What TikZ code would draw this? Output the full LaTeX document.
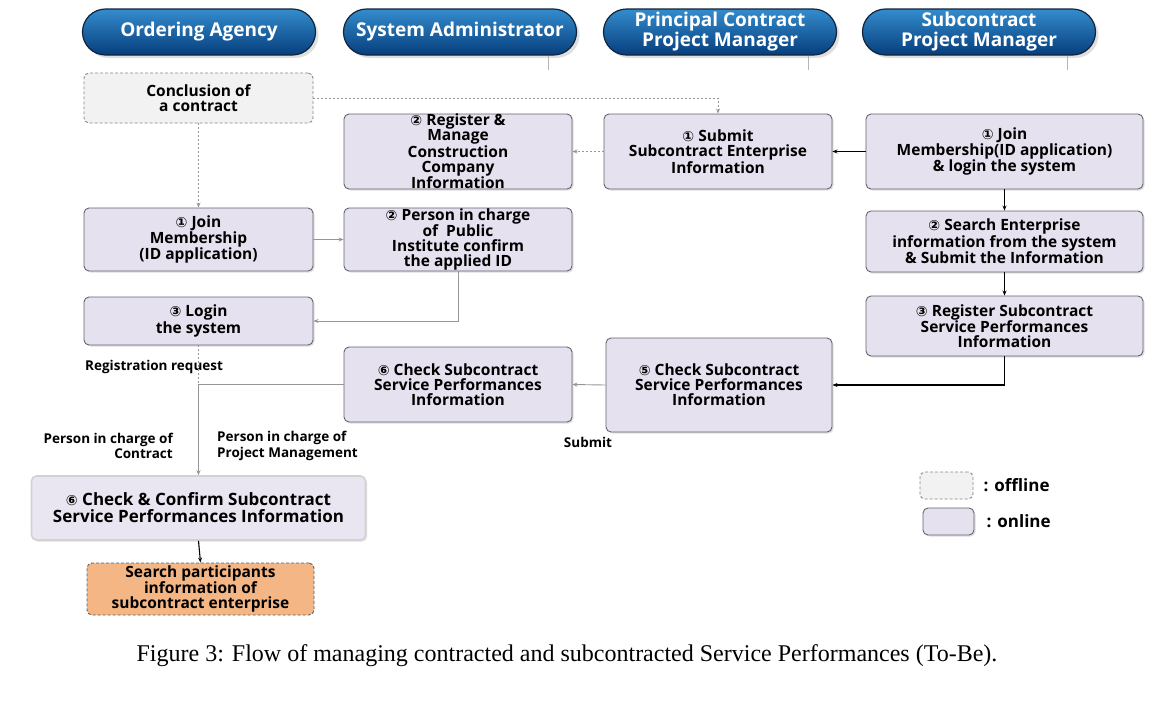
\documentclass[tikz,border=0pt]{standalone}
\usepackage{fontspec}
\usepackage{xcolor}
\usepackage{tikz}
\usetikzlibrary{positioning,calc,shadows,arrows.meta}
\setmainfont{Liberation Serif}
\newfontfamily\diafont{Open Sans}
\newfontfamily\numfont{DejaVu Sans}
\definecolor{PillTop}{RGB}{52,140,205}
\definecolor{PillBot}{RGB}{6,62,125}
\definecolor{PillLine}{RGB}{18,36,58}
\definecolor{OnFill}{RGB}{229,225,238}
\definecolor{OnLine}{RGB}{100,100,110}
\definecolor{OffFill}{RGB}{242,242,242}
\definecolor{OffLine}{RGB}{135,135,135}
\definecolor{OrgFill}{RGB}{244,182,132}
\definecolor{LinkGray}{RGB}{150,150,150}
\newcommand{\cnum}[1]{{\numfont\fontsize{14}{12}\selectfont #1}}

\begin{document}
\begin{tikzpicture}[
		x=1pt, y=-1pt,
		pill/.style={draw=PillLine, line width=1.2pt, rounded corners=23pt, top color=PillTop, bottom color=PillBot,
			minimum width=233pt, minimum height=46pt, align=center, text=white,
			font=\diafont\bfseries\fontsize{19}{20}\selectfont,
			drop shadow={opacity=0.25, shadow xshift=3pt, shadow yshift=-3pt}},
		online/.style={draw=OnLine, line width=0.9pt, fill=OnFill, rounded corners=5pt, align=center,
			font=\diafont\bfseries\fontsize{15.5}{15}\selectfont, inner sep=0pt,
			drop shadow={opacity=0.25, shadow xshift=1.5pt, shadow yshift=-1.5pt}},
		offline/.style={draw=OffLine, line width=0.9pt, dash pattern=on 3pt off 2pt, fill=OffFill, rounded corners=5pt,
			align=center, font=\diafont\bfseries\fontsize{15.5}{15}\selectfont, inner sep=0pt},
		lbl/.style={font=\diafont\bfseries\fontsize{13.5}{15.5}\selectfont, inner sep=0pt},
		flow/.style={draw=black, line width=1.1pt, -{Stealth[length=5pt,width=4pt]}},
		link/.style={draw=LinkGray, line width=0.9pt, -{Stealth[length=5pt,width=4pt]}},
		offlink/.style={draw=LinkGray, line width=0.9pt, dash pattern=on 2pt off 2pt, -{Stealth[length=5pt,width=4pt]}},
		tick/.style={draw=LinkGray!70, line width=0.8pt}
		]
		\useasboundingbox (0,0) rectangle (1169,705);
		
		% ===== lanes =====
		\node[pill] (hdoa) at (199,32) {Ordering Agency};
		\node[pill] (hdsa) at (460,32) {System Administrator};
		\node[pill] (hdpc) at (720,32) {Principal Contract\\Project Manager};
		\node[pill] (hdsc) at (979,32) {Subcontract\\Project Manager};
		\foreach \h in {hdsa,hdpc,hdsc}{
			\draw[tick] ($(\h.south east)+(-29,0)$) -- ++(0,14);
		}
		
		% ===== steps =====
		\node[offline, minimum width=229pt, minimum height=50pt] (concl) at (198.5,98) {Conclusion of\\a contract};
		\node[online, minimum width=228pt, minimum height=75pt] (regman) at (458,151.5)
			{\cnum{②} Register \&\\Manage\\Construction\\Company\\Information};
		\node[online, minimum width=228pt, minimum height=75pt] (submit) at (718,151.5)
			{\cnum{①} Submit\\Subcontract Enterprise\\Information};
		\node[online, minimum width=277pt, minimum height=75pt] (joinlog) at (1004.5,151.5)
			{\cnum{①} Join\\Membership(ID application)\\\& login the system};
		\node[online, minimum width=229pt, minimum height=63pt] (joinoa) at (198.5,239.5)
			{\cnum{①} Join\\Membership\\(ID application)};
		\node[online, minimum width=228pt, minimum height=63pt] (person) at (458,239.5)
			{\cnum{②} Person in charge\\of~ Public\\Institute confirm\\the applied ID};
		\node[online, minimum width=229pt, minimum height=48pt] (login) at (198.5,321)
			{\cnum{③} Login\\the system};
		\node[online, minimum width=228pt, minimum height=75pt] (check6) at (458,384.5)
			{\cnum{⑥} Check Subcontract\\Service Performances\\Information};
		\node[online, minimum width=277pt, minimum height=61pt] (search) at (1004.5,241.5)
			{\cnum{②} Search Enterprise\\information from the system\\\& Submit the Information};
		\node[online, minimum width=277pt, minimum height=60pt] (regsub) at (1004.5,326)
			{\cnum{③} Register Subcontract\\Service Performances\\Information};
		\node[online, minimum width=226pt, minimum height=94pt] (check5) at (719,385)
			{\cnum{⑤} Check Subcontract\\Service Performances\\Information};
		\node[online, draw=gray!35, line width=1.6pt, fill=OnFill!85!white, minimum width=334pt, minimum height=64pt,
			font=\diafont\bfseries\fontsize{17}{17}\selectfont] (confirm) at (198.5,508)
			{\cnum{⑥} Check \& Confirm Subcontract\\Service Performances Information};
		\node[offline, fill=OrgFill, draw=OffLine!70!black, minimum width=227pt, minimum height=52pt] (partic) at (200.5,589)
			{Search participants\\information of\\subcontract enterprise};
		
		% ===== labels =====
		\node[lbl, anchor=west] (lblreg) at (85,367) {Registration request};
		\node[lbl, anchor=east, align=right] (lblcon) at (173,446) {Person in charge of\\Contract};
		\node[lbl, anchor=west, align=left] (lblpm) at (217,446) {Person in charge of\\Project Management};
		\node[lbl] (lblsub) at (588,442) {Submit};
		
		% ===== connectors =====
		\draw[offlink] (concl.east) -| (submit.north);
		\draw[offlink] (concl.south) -- (joinoa.north);
		\draw[offlink] (submit.west) -- (regman.east);
		\draw[flow] (joinlog.west) -- (submit.east);
		\draw[flow] (joinlog.south) -- (search.north);
		\draw[flow] (search.south) -- (regsub.north);
		\draw[flow] (regsub.south) |- (check5.east);
		\draw[link] (check5.west) -- (check6.east);
		\draw[link] (joinoa.east) -- (person.west);
		\draw[link] (person.south) |- (login.east);
		\coordinate (split) at (login.south |- check6.west);
		\draw[offlink, -] (login.south) -- (split);
		\draw[link] (check6.west) -| (confirm.north);
		\draw[flow] (confirm.south) -- (partic.north);
		
		% ===== legend =====
		\node[offline, minimum width=53pt, minimum height=27pt] (legoff) at (946.5,485.5) {};
		\node[online, minimum width=51pt, minimum height=27pt] (legon) at (948.5,521.5) {};
		\node[lbl, font=\diafont\bfseries\fontsize{17}{19}\selectfont, right=10pt of legoff] (txtoff) {: offline};
		\node[lbl, font=\diafont\bfseries\fontsize{17}{19}\selectfont, right=12pt of legon] (txton) {: online};
		
		% ===== caption =====
		\node[font=\fontsize{24}{26}\selectfont] (caption) at (567,656)
			{Figure 3: Flow of managing contracted and subcontracted Service Performances (To-Be).};
		
	\end{tikzpicture}
\end{document}
